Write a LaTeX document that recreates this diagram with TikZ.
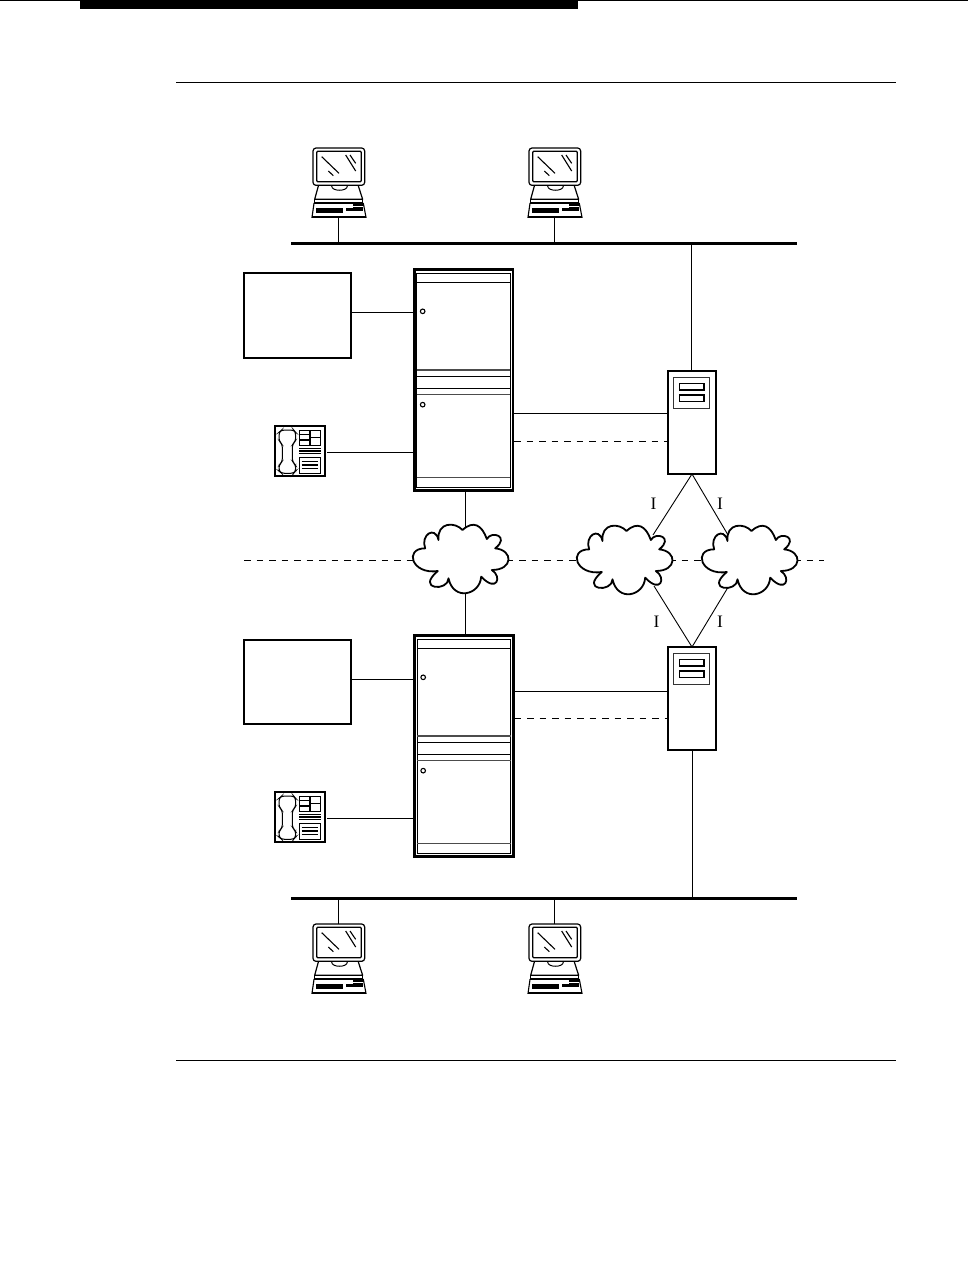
\documentclass[tikz,border=0pt]{standalone}
\usepackage{fontspec}
\setmainfont{Liberation Serif}
\tikzset{
  x=1pt,y=-1pt,
  zz/.style={x=0.33333pt,y=-0.33333pt},
  conn/.style={line width=.9pt,black},
  dashconn/.style={line width=.9pt,black,dash pattern=on 6.5pt off 6pt},
  bus/.style={line width=3pt,black},
  rule/.style={line width=1.2pt,black},
  slot/.style={inner sep=0pt,outer sep=0pt,draw=none},
  lab/.style={inner sep=0pt,font=\fontsize{17.5}{17.5}\selectfont},
  box/.style={draw=black,line width=2pt,inner sep=0pt,outer sep=0pt,minimum width=107pt,minimum height=84.5pt},
  pcpic/.pic={
    \draw[zz,line width=1.2pt,rounded corners=3pt] (69,24) rectangle (224,136);
    \draw[zz,line width=1.2pt,rounded corners=1pt] (80,34) rectangle (214,125);
    \draw[zz,line width=1.1pt] (95,50) -- (147,100) (115,93) -- (130,107) (167,45) -- (197,93) (180,45) -- (197,70);
    \draw[zz,line width=1.2pt,join=round] (85,138) -- (74,178) -- (218,178) -- (205,138);
    \draw[zz,line width=1pt] (125,138) .. controls (125,155) and (172,155) .. (172,138);
    \draw[zz,line width=1pt] (74,178) -- (74,187) -- (218,187) -- (218,178);
    \draw[zz,line width=1.1pt,fill=white] (72,190) -- (220,190) -- (228,232) -- (66,232) -- cycle;
    \draw[zz,line width=2.2pt] (66,232) -- (228,232);
    \fill[zz] (78,204) rectangle (158,218);
    \fill[zz] (168,205) rectangle (218,212);
    \fill[zz] (190,193) rectangle (218,199);
    \draw[zz,line width=.8pt] (190,203) -- (218,203);
  },
  cabpic/.pic={
    \draw[zz,line width=2.9pt] (43,29) rectangle (339,692);
    \draw[zz,line width=1pt] (50,40) rectangle (330,682);
    \draw[zz,line width=1.2pt] (50,67) -- (330,67);
    \draw[zz,line width=1.2pt,black!70] (50,330) -- (330,330) (50,403) -- (330,403) (50,653) -- (330,653);
    \draw[zz,line width=1.2pt] (50,349) -- (330,349) (50,385) -- (330,385);
    \draw[zz,line width=1.1pt] (68,154) circle (2.3pt) (68,434) circle (2.3pt);
  },
  phonepic/.pic={
    \draw[zz,line width=2.2pt] (30,33) rectangle (181,184);
    \draw[zz,line width=1pt,rounded corners=3pt] (50,45) -- (86,45) -- (92,52) -- (92,78) -- (82,88) -- (82,140) -- (92,150) -- (92,168) -- (86,175) -- (50,175) -- (42,168) -- (42,150) -- (52,140) -- (52,88) -- (42,78) -- (42,52) -- cycle;
    \draw[zz,line width=1pt] (102,45) rectangle (132,90) (137,45) rectangle (167,90);
    \draw[zz,line width=1.3pt] (102,58) -- (132,58) (102,75) -- (132,75) (137,67) -- (167,67);
    \draw[zz,line width=1.2pt] (102,100) -- (167,100) (102,108) -- (167,108) (102,116) -- (167,116);
    \draw[zz,line width=1pt] (102,127) rectangle (167,175);
    \draw[zz,line width=1.1pt] (110,140) -- (160,140) (110,150) -- (160,150) (110,160) -- (160,160);
  },
  srvpic/.pic={
    \draw[zz,line width=2.2pt] (40,34) rectangle (183,343);
    \draw[zz,line width=1.3pt,black!80] (55,53) rectangle (163,145);
    \draw[zz,line width=1.3pt] (73,70) rectangle (147,90) (73,105) rectangle (147,125);
  },
  cloudpic/.pic={
    \draw[zz,line width=1.8pt,fill=white,line join=round]
      (192,45) .. controls (225,15) and (250,30) .. (265,72)
      .. controls (280,45) and (335,65) .. (290,100)
      .. controls (345,105) and (345,165) .. (280,165)
      .. controls (312,185) and (295,235) .. (248,185)
      .. controls (245,240) and (165,260) .. (150,190)
      .. controls (150,230) and (50,225) .. (118,168)
      .. controls (40,180) and (15,100) .. (80,100)
      .. controls (65,60) and (110,30) .. (120,75)
      .. controls (115,20) and (170,20) .. (192,45) -- cycle;
  },
}
\begin{document}
\begin{tikzpicture}
\useasboundingbox (0,0) rectangle (968,1276);
% page furniture
\fill[black] (80,0) rectangle (578,9);
\draw[line width=1pt] (0,.5) -- (968,.5);
\draw[rule] (176,82.5) -- (896,82.5);
\draw[rule] (176,1060.5) -- (896,1060.5);
% boundary line behind the clouds
\coordinate (dl) at (244,560.5);
\coordinate (dr) at (824,560.5);
\draw[dashconn] (dl) -- (dr);
% anchoring nodes
\node[slot,minimum width=54pt,minimum height=70pt] (pcA) at (338.5,183) {};
\node[slot,minimum width=54pt,minimum height=70pt] (pcB) at (554.5,183) {};
\node[slot,minimum width=54pt,minimum height=70pt] (pcC) at (338.5,959) {};
\node[slot,minimum width=54pt,minimum height=70pt] (pcD) at (554.5,959) {};
\coordinate (busAl) at (291,243);
\coordinate (busAr) at (797,243);
\coordinate (busBl) at (291,898);
\coordinate (busBr) at (797,898);
\node[slot,minimum width=101pt,minimum height=224pt] (cabA) at (463.5,380) {};
\node[slot,minimum width=101pt,minimum height=224pt] (cabB) at (464,746) {};
\node[box] (ctlA) at (297.5,315.5) {};
\node[box] (ctlB) at (297.5,682) {};
\node[slot,minimum width=52pt,minimum height=52pt] (telA) at (301,451.5) {};
\node[slot,minimum width=52pt,minimum height=52pt] (telB) at (301,817.5) {};
\node[slot,minimum width=48pt,minimum height=103pt] (srvA) at (692,422.5) {};
\node[slot,minimum width=48pt,minimum height=103pt] (srvB) at (692,698.5) {};
\node[slot,minimum width=95pt,minimum height=71pt] (cldA) at (465,560.5) {};
\node[slot,minimum width=95pt,minimum height=71pt] (cldB) at (629,561.5) {};
\node[slot,minimum width=95pt,minimum height=71pt] (cldC) at (754,561.5) {};
% connectors
\draw[conn] (pcA.south) -- (pcA.south |- busAl);
\draw[conn] (pcB.south) -- (pcB.south |- busAl);
\draw[conn] (pcC.north) -- (pcC.north |- busBl);
\draw[conn] (pcD.north) -- (pcD.north |- busBl);
\draw[conn] (srvA.north -| 691,0) -- (691,243);
\draw[conn] (srvB.south) -- (srvB.south |- busBr);
\draw[conn] (ctlA.east |- 0,312) -- (cabA.west |- 0,312);
\draw[conn] (ctlB.east |- 0,679) -- (cabB.west |- 0,679);
\draw[conn] (telA.east |- 0,452) -- (cabA.west |- 0,452);
\draw[conn] (telB.east |- 0,818) -- (cabB.west |- 0,818);
\draw[conn] (cabA.east |- 0,413) -- (srvA.west |- 0,413);
\draw[dashconn] (cabA.east |- 0,441) -- (srvA.west |- 0,441);
\draw[conn] (cabB.east |- 0,691) -- (srvB.west |- 0,691);
\draw[dashconn] (cabB.east |- 0,718) -- (srvB.west |- 0,718);
\draw[conn] (cabA.south -| 465,0) -- (465,530);
\draw[conn] (465,590) -- (cabB.north -| 465,0);
\draw[conn] (srvA.south) -- (653,535);
\draw[conn] (srvA.south) -- (728,535);
\draw[conn] (srvB.north) -- (654,586);
\draw[conn] (srvB.north) -- (727,589);
\draw[bus] (busAl) -- (busAr);
\draw[bus] (busBl) -- (busBr);
% device drawings
\pic at (290,140) {pcpic};
\pic at (506,140) {pcpic};
\pic at (290,916) {pcpic};
\pic at (506,916) {pcpic};
\pic at (400,260) {cabpic};
\pic at (400.5,626) {cabpic};
\pic at (265,415) {phonepic};
\pic at (265,781) {phonepic};
\pic at (655,360) {srvpic};
\pic at (655,636) {srvpic};
\pic at (398.5,515) {cloudpic};
\pic at (562.5,516) {cloudpic};
\pic at (687.5,516) {cloudpic};
% labels
\node[lab] (iA) at (653.5,504) {I};
\node[lab] (iB) at (720,504) {I};
\node[lab] (iC) at (656.5,622) {I};
\node[lab] (iD) at (720,622) {I};
\end{tikzpicture}
\end{document}
